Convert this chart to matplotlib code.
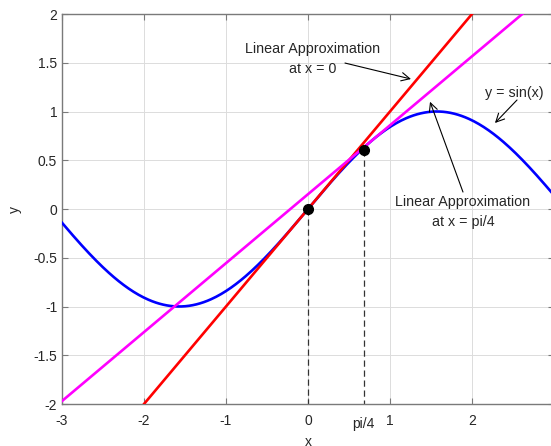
import matplotlib.pyplot as plt
import numpy as np

plt.rcParams["font.family"] = ["Liberation Sans", "DejaVu Sans"]
plt.rcParams["axes.unicode_minus"] = False

# data
x_range = [-3, 3]
y_range = [-2, 2]
x_ticks = [-3, -2, -1, 0, 1, 2, 3]
y_ticks = [-2, -1.5, -1, -0.5, 0, 0.5, 1, 1.5, 2]
y_tick_labels = ["-2", "-1.5", "-1", "-0.5", "0", "0.5", "1", "1.5", "2"]
a0 = 0.0
a1 = np.pi / 4
# marked points as drawn in the picture
point_x = [0.0, 0.68]
point_y = [0.0, 0.61]
point_label = "pi/4"

x = np.linspace(-3, 3, 400)
y_sin = np.sin(x)
x_tan0 = np.linspace(-2, 2, 2)
y_tan0 = np.sin(a0) + np.cos(a0) * (x_tan0 - a0)
x_tan1 = np.linspace(-3, 3, 2)
y_tan1 = np.sin(a1) + np.cos(a1) * (x_tan1 - a1)

text_color = "#262626"
axis_color = "#7a7a7a"

fig = plt.figure(figsize=(5.51, 4.46), dpi=100)
ax = fig.add_axes([62 / 551, 42 / 446, 492 / 551, 390 / 446])

ax.plot(x, y_sin, color="#0000ff", lw=1.9, zorder=3)
ax.plot(x_tan0, y_tan0, color="#ff0000", lw=1.9, zorder=3)
ax.plot(x_tan1, y_tan1, color="#ff00ff", lw=1.9, zorder=3)

for px, py in zip(point_x, point_y):
    ax.plot([px, px], [py, -2], color="#333333", lw=0.9, ls=(0, (5, 3)), zorder=2)
    ax.plot(px, py, "o", color="black", ms=7, zorder=4)

ax.set_xlim(x_range)
ax.set_ylim(y_range)
ax.set_xticks(x_ticks)
ax.set_yticks(y_ticks)
ax.set_yticklabels(y_tick_labels)
ax.grid(True, color="#dcdcdc", lw=0.7)
ax.set_axisbelow(True)
ax.tick_params(direction="in", length=4, width=0.8, colors=axis_color,
               labelcolor=text_color, labelsize=10, top=True, right=True)
ax.tick_params(axis="x", pad=7)
for s in ax.spines.values():
    s.set_color(axis_color)
    s.set_linewidth(1.0)

ax.text(point_x[1], -2.13, point_label, ha="center", va="top", fontsize=10,
        color=text_color)
ax.set_xlabel("x", fontsize=10, color=text_color, labelpad=5)
ax.set_ylabel("y", fontsize=10, color=text_color, labelpad=8)

arrow = dict(arrowstyle="->", color="black", lw=0.8, shrinkA=0, shrinkB=0,
             mutation_scale=15)
ax.text(0.06, 1.535, "Linear Approximation\nat x = 0", ha="center", va="center",
        fontsize=10.3, color=text_color, linespacing=1.55)
ax.annotate("", xy=(1.256, 1.333), xytext=(0.451, 1.497), arrowprops=arrow)

ax.text(2.52, 1.19, "y = sin(x)", ha="center", va="center", fontsize=10.3,
        color=text_color)
ax.annotate("", xy=(2.28, 0.882), xytext=(2.549, 1.118), arrowprops=arrow)

ax.text(1.89, -0.03, "Linear Approximation\nat x = pi/4", ha="center",
        va="center", fontsize=10.3, color=text_color, linespacing=1.55)
ax.annotate("", xy=(1.488, 1.1), xytext=(1.89, 0.174), arrowprops=arrow)

fig.savefig("out.png", dpi=100)
